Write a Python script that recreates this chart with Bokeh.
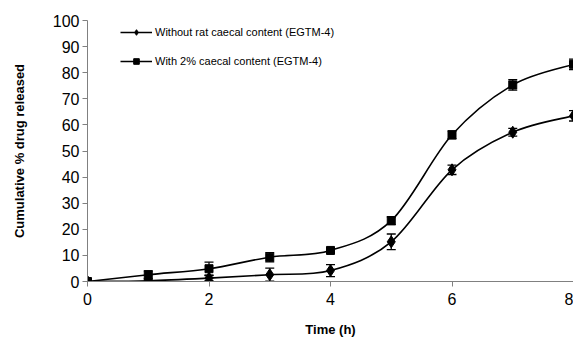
from bokeh.plotting import figure
from bokeh.models import Range1d, Whisker, ColumnDataSource, Legend, LegendItem, FixedTicker
from bokeh.embed import file_html
from bokeh.resources import INLINE
import numpy as np

time_h = [0, 1, 2, 3, 4, 5, 6, 7, 8]
without_caecal = [0, 0.3, 1.3, 2.6, 4.2, 15.2, 42.8, 57.2, 63.5]
without_err = [0.3, 0.5, 1.0, 2.5, 2.3, 3.0, 1.8, 1.5, 2.0]
with_caecal = [0, 2.6, 4.9, 9.3, 11.9, 23.3, 56.2, 75.3, 83.2]
with_err = [0.3, 1.5, 2.5, 1.8, 1.0, 1.5, 1.5, 2.0, 2.0]
labels = ["Without rat caecal content (EGTM-4)", "With 2% caecal content (EGTM-4)"]
x_ticks = [0, 2, 4, 6, 8]
y_ticks = [0, 10, 20, 30, 40, 50, 60, 70, 80, 90, 100]

FONT = "Liberation Sans"

p = figure(width=573, height=344, output_backend="svg", toolbar_location=None,
           x_range=Range1d(0, 8), y_range=Range1d(0, 100),
           min_border_left=87, min_border_right=0, min_border_top=20, min_border_bottom=63)
p.outline_line_color = None
p.xgrid.grid_line_color = None
p.ygrid.grid_line_color = None
p.background_fill_color = "white"

for ax in (p.xaxis[0], p.yaxis[0]):
    ax.axis_line_color = "#808080"
    ax.major_tick_line_color = "#808080"
    ax.minor_tick_line_color = None
    ax.major_tick_in = 0
    ax.major_tick_out = 5
    ax.major_label_text_font = FONT
    ax.major_label_text_font_size = "16px"
    ax.major_label_text_color = "black"
    ax.axis_label_text_font = FONT
    ax.axis_label_text_font_size = "13px"
    ax.axis_label_text_font_style = "bold"
    ax.axis_label_text_color = "black"

p.xaxis.ticker = FixedTicker(ticks=x_ticks)
p.yaxis.ticker = FixedTicker(ticks=y_ticks)
p.xaxis.axis_label = "Time (h)"
p.yaxis.axis_label = "Cumulative % drug released"
p.xaxis.major_label_standoff = 6
p.xaxis.axis_label_standoff = 14
p.yaxis.major_label_standoff = 3
p.yaxis.axis_label_standoff = 23


def smooth(xs, ys):
    xs = np.asarray(xs, float)
    ys = np.asarray(ys, float)
    n = len(xs)
    x0, y0, x1, y1, cx0, cy0, cx1, cy1 = [], [], [], [], [], [], [], []
    for i in range(n - 1):
        pm = max(i - 1, 0)
        pp = min(i + 2, n - 1)
        x0.append(xs[i]); y0.append(ys[i])
        x1.append(xs[i + 1]); y1.append(ys[i + 1])
        cx0.append(xs[i] + (xs[i + 1] - xs[pm]) / 6)
        cy0.append(ys[i] + (ys[i + 1] - ys[pm]) / 6)
        cx1.append(xs[i + 1] - (xs[pp] - xs[i]) / 6)
        cy1.append(ys[i + 1] - (ys[pp] - ys[i]) / 6)
    return dict(x0=x0, y0=y0, x1=x1, y1=y1, cx0=cx0, cy0=cy0, cx1=cx1, cy1=cy1)


items = []
for ys, errs, marker, size, label in [
    (without_caecal, without_err, "diamond", 12, labels[0]),
    (with_caecal, with_err, "square", 8, labels[1]),
]:
    p.bezier(source=ColumnDataSource(smooth(time_h, ys)), x0="x0", y0="y0", x1="x1", y1="y1",
             cx0="cx0", cy0="cy0", cx1="cx1", cy1="cy1", line_color="black", line_width=1.6)
    src = ColumnDataSource(dict(x=time_h, y=ys,
                                lo=[a - b for a, b in zip(ys, errs)],
                                hi=[a + b for a, b in zip(ys, errs)]))
    w = Whisker(base="x", lower="lo", upper="hi", source=src, line_color="black", line_width=1.3)
    w.upper_head.size = 9
    w.lower_head.size = 9
    w.upper_head.line_width = 1.3
    w.lower_head.line_width = 1.3
    p.add_layout(w)
    sc = p.scatter("x", "y", source=src, marker=marker, size=size, fill_color="black", line_color="black")
    ln = p.line("x", "y", source=src, line_color="black", line_width=1.6, visible=False)
    items.append(LegendItem(label=label, renderers=[ln, sc]))

legend = Legend(items=items, location=(33, 213), border_line_color=None,
                background_fill_alpha=0, padding=0, margin=0, spacing=15,
                glyph_width=32, glyph_height=14, label_standoff=3,
                label_text_font=FONT, label_text_font_size="11px", label_height=14,
                label_text_color="black")
p.add_layout(legend, "center")

open("out.html", "w").write(file_html(p, INLINE))
